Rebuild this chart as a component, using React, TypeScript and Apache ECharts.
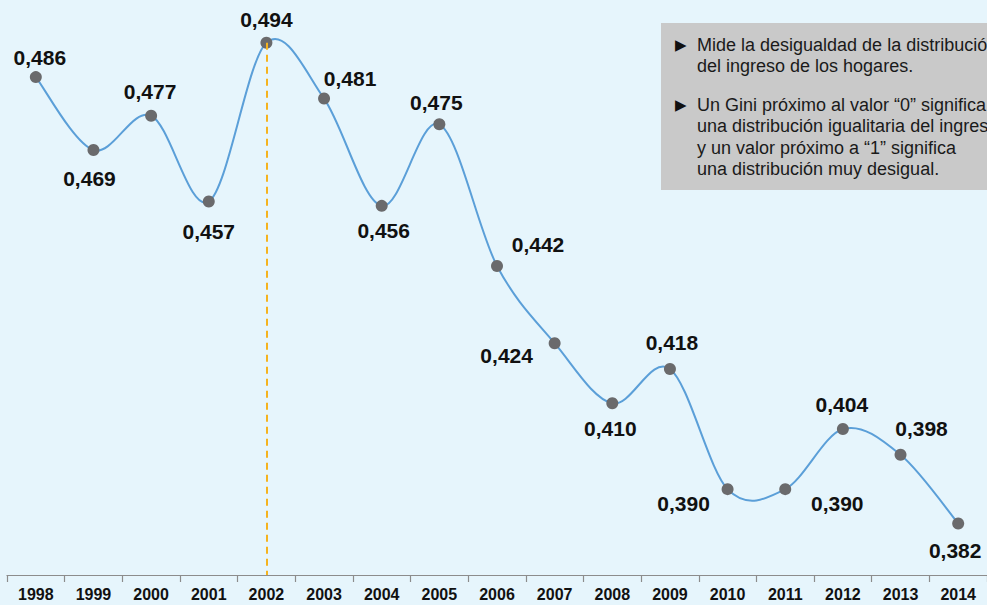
import React, { useEffect, useRef } from "react";
import * as echarts from "echarts";

const years = ["1998","1999","2000","2001","2002","2003","2004","2005","2006","2007","2008","2009","2010","2011","2012","2013","2014"];
const gini = [0.486,0.469,0.477,0.457,0.494,0.481,0.456,0.475,0.442,0.424,0.410,0.418,0.390,0.390,0.404,0.398,0.382];
const labelOffsets: [number, number][] = [
  [4,-20],[-4,28],[-1,-24],[0,30],[0,-23],[26,-20],[2,25],[-3,-22],[41,-21],[-48,12],[-2,25],[2,-26],[-44,14],[52,14],[-1,-25],[21,-26],[-3,27]
];
const highlightYear = "2002";
const noteParagraphs = [
  "Mide la desigualdad de la distribución\ndel ingreso de los hogares.",
  "Un Gini próximo al valor “0” significa\nuna distribución igualitaria del ingreso\ny un valor próximo a “1” significa\nuna distribución muy desigual.",
];

const fmt = (v: number) => v.toFixed(3).replace(".", ",");

export default function App() {
  const ref = useRef<HTMLDivElement>(null);
  useEffect(() => {
    document.body.style.margin = "0";
    const chart = echarts.init(ref.current!, undefined, { renderer: "svg" });
    const hi = years.indexOf(highlightYear);
    chart.setOption({
      animation: false,
      backgroundColor: "#e6f5fc",
      grid: { left: 7, right: 0, top: 17, bottom: 30 },
      xAxis: {
        type: "category",
        data: years,
        boundaryGap: true,
        axisLine: { lineStyle: { color: "#8c8c8c", width: 1.2 } },
        axisTick: { show: true, interval: 0, length: 7, lineStyle: { color: "#8c8c8c", width: 1.2 } },
        axisLabel: {
          interval: 0,
          color: "#111",
          fontWeight: "bold",
          fontSize: 16,
          fontFamily: "'Liberation Sans', Arial, sans-serif",
          margin: 11,
        },
      },
      yAxis: { type: "value", min: 0.37, max: 0.5, show: false, splitLine: { show: false } },
      series: [
        {
          type: "custom",
          data: [0],
          clip: false,
          silent: true,
          z: 2,
          renderItem: (params: any, api: any) => {
            const pts = gini.map((v, i) => api.coord([i, v]));
            const n = pts.length;
            let d = `M${pts[0][0]},${pts[0][1]}`;
            for (let i = 0; i < n - 1; i++) {
              const p0 = pts[Math.max(i - 1, 0)];
              const p1 = pts[i];
              const p2 = pts[i + 1];
              const p3 = pts[Math.min(i + 2, n - 1)];
              const c1x = p1[0] + (p2[0] - p0[0]) / 6;
              const c1y = p1[1] + (p2[1] - p0[1]) / 6;
              const c2x = p2[0] - (p3[0] - p1[0]) / 6;
              const c2y = p2[1] - (p3[1] - p1[1]) / 6;
              d += ` C${c1x},${c1y} ${c2x},${c2y} ${p2[0]},${p2[1]}`;
            }
            return {
              type: "path",
              shape: { pathData: d },
              style: { stroke: "#5b9fd8", lineWidth: 2, fill: "none" },
            };
          },
        },
        {
          type: "line",
          data: gini.map((v, i) => ({
            value: v,
            label: { offset: labelOffsets[i] },
          })),
          symbol: "circle",
          symbolSize: 12,
          lineStyle: { width: 0, opacity: 0 },
          itemStyle: { color: "#6a6a6c" },
          label: {
            show: true,
            position: "inside",
            align: "center",
            verticalAlign: "middle",
            formatter: (p: any) => fmt(p.value),
            color: "#111",
            fontWeight: "bold",
            fontSize: 21,
            fontFamily: "'Liberation Sans', Arial, sans-serif",
          },
          markLine: {
            silent: true,
            symbol: "none",
            label: { show: false },
            lineStyle: { color: "#f5b31e", width: 2, type: [7, 5] },
            data: [[{ coord: [highlightYear, gini[hi]] }, { coord: [highlightYear, 0.37] }]],
          },
          z: 3,
        },
      ],
      graphic: [
        { type: "rect", shape: { x: 661, y: 23, width: 400, height: 167 }, style: { fill: "#c9c9c9" }, z: 0 },
        { type: "text", x: 675, y: 45, style: { text: "▶", font: "15px 'DejaVu Sans'", fill: "#111", verticalAlign: "middle" } },
        { type: "text", x: 697, y: 34, style: { text: noteParagraphs[0], font: "18px 'Liberation Sans', Arial, sans-serif", fill: "#1a1a1a", lineHeight: 21.5, verticalAlign: "top" } },
        { type: "text", x: 675, y: 105, style: { text: "▶", font: "15px 'DejaVu Sans'", fill: "#111", verticalAlign: "middle" } },
        { type: "text", x: 697, y: 94, style: { text: noteParagraphs[1], font: "18px 'Liberation Sans', Arial, sans-serif", fill: "#1a1a1a", lineHeight: 21.5, verticalAlign: "top" } },
      ],
    });
    return () => chart.dispose();
  }, []);
  return <div ref={ref} style={{ position: "fixed", left: 0, top: 0, width: 987, height: 605 }} />;
}
